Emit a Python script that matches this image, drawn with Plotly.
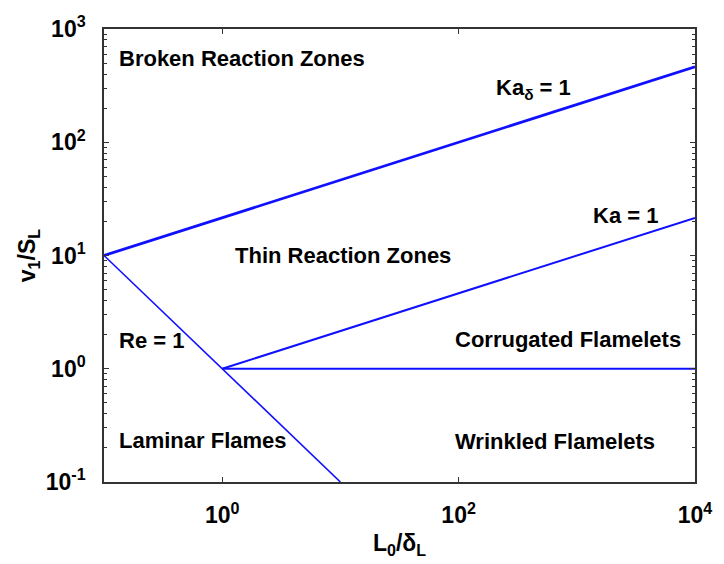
import plotly.graph_objects as go

# Regime boundaries of the premixed turbulent combustion diagram (endpoints)
ka_delta_x = [0.1, 1e4]
ka_delta_y = [10, 464]
ka_x = [1, 1e4]
ka_y = [1, 21.5]
horiz_x = [1, 1e4]
horiz_y = [1, 1]
re_x = [0.1, 10]
re_y = [10, 0.1]

x_tick_vals = [1, 100, 10000]
x_tick_text = ["10<sup>0</sup>", "10<sup>2</sup>", "10<sup>4</sup>"]
y_tick_vals = [0.1, 1, 10, 100, 1000]
y_tick_text = ["10<sup>-1</sup>", "10<sup>0</sup>", "10<sup>1</sup>", "10<sup>2</sup>", "10<sup>3</sup>"]

regions = ["Broken Reaction Zones", "Thin Reaction Zones", "Corrugated Flamelets",
           "Wrinkled Flamelets", "Laminar Flames", "Re = 1", "Ka = 1", "Ka<sub>δ</sub> = 1"]
region_x = [117, 235, 459, 459, 117, 117, 600, 501]
region_y = [58, 255, 340, 442, 441, 341, 215, 88]

BLUE = "#1010ff"
FONT = "Liberation Sans"

fig = go.Figure()
for xs, ys, w in [(ka_delta_x, ka_delta_y, 2.8), (ka_x, ka_y, 2.0),
                  (horiz_x, horiz_y, 2.2), (re_x, re_y, 1.6)]:
    fig.add_trace(go.Scatter(x=xs, y=ys, mode="lines",
                             line=dict(color=BLUE, width=w), showlegend=False,
                             hoverinfo="skip"))

L, R, T, B = 104, 18, 28, 81
W, H = 724, 564
pw, ph = W - L - R, H - T - B
for txt, px, py in zip(regions, region_x, region_y):
    fig.add_annotation(x=(px - L) / pw, y=1 - (py - T) / ph, xref="paper", yref="paper",
                       text="<b>" + txt + "</b>", showarrow=False, xanchor="left",
                       yanchor="middle",
                       font=dict(family=FONT, size=22, color="black"))

axis_common = dict(type="log", showgrid=False, zeroline=False, showline=True,
                   linecolor="#333", linewidth=1.5, mirror="ticks", ticks="inside",
                   tickcolor="#333", ticklen=5, tickwidth=1,
                   tickfont=dict(family=FONT, size=23, color="black", weight="bold"))

fig.update_xaxes(range=[-1, 4], tickvals=x_tick_vals, ticktext=x_tick_text,
                 ticklabelstandoff=12,
                 title=dict(text="L<sub>0</sub>/δ<sub>L</sub>", standoff=8,
                            font=dict(family=FONT, size=23, color="black", weight="bold")),
                 **axis_common)
fig.update_yaxes(range=[-1, 3], tickvals=y_tick_vals, ticktext=y_tick_text,
                 ticklabelstandoff=12,
                 minor=dict(ticks="inside", ticklen=3, tickcolor="#333",
                            tickvals=[m * 10 ** e for e in range(-1, 3) for m in range(2, 10)]),
                 title=dict(text="v<sub>1</sub>/S<sub>L</sub>", standoff=4,
                            font=dict(family=FONT, size=23, color="black", weight="bold")),
                 **axis_common)

fig.update_layout(width=W, height=H, margin=dict(l=L, r=R, t=T, b=B),
                  plot_bgcolor="white", paper_bgcolor="white")
fig.write_html("out.html")
